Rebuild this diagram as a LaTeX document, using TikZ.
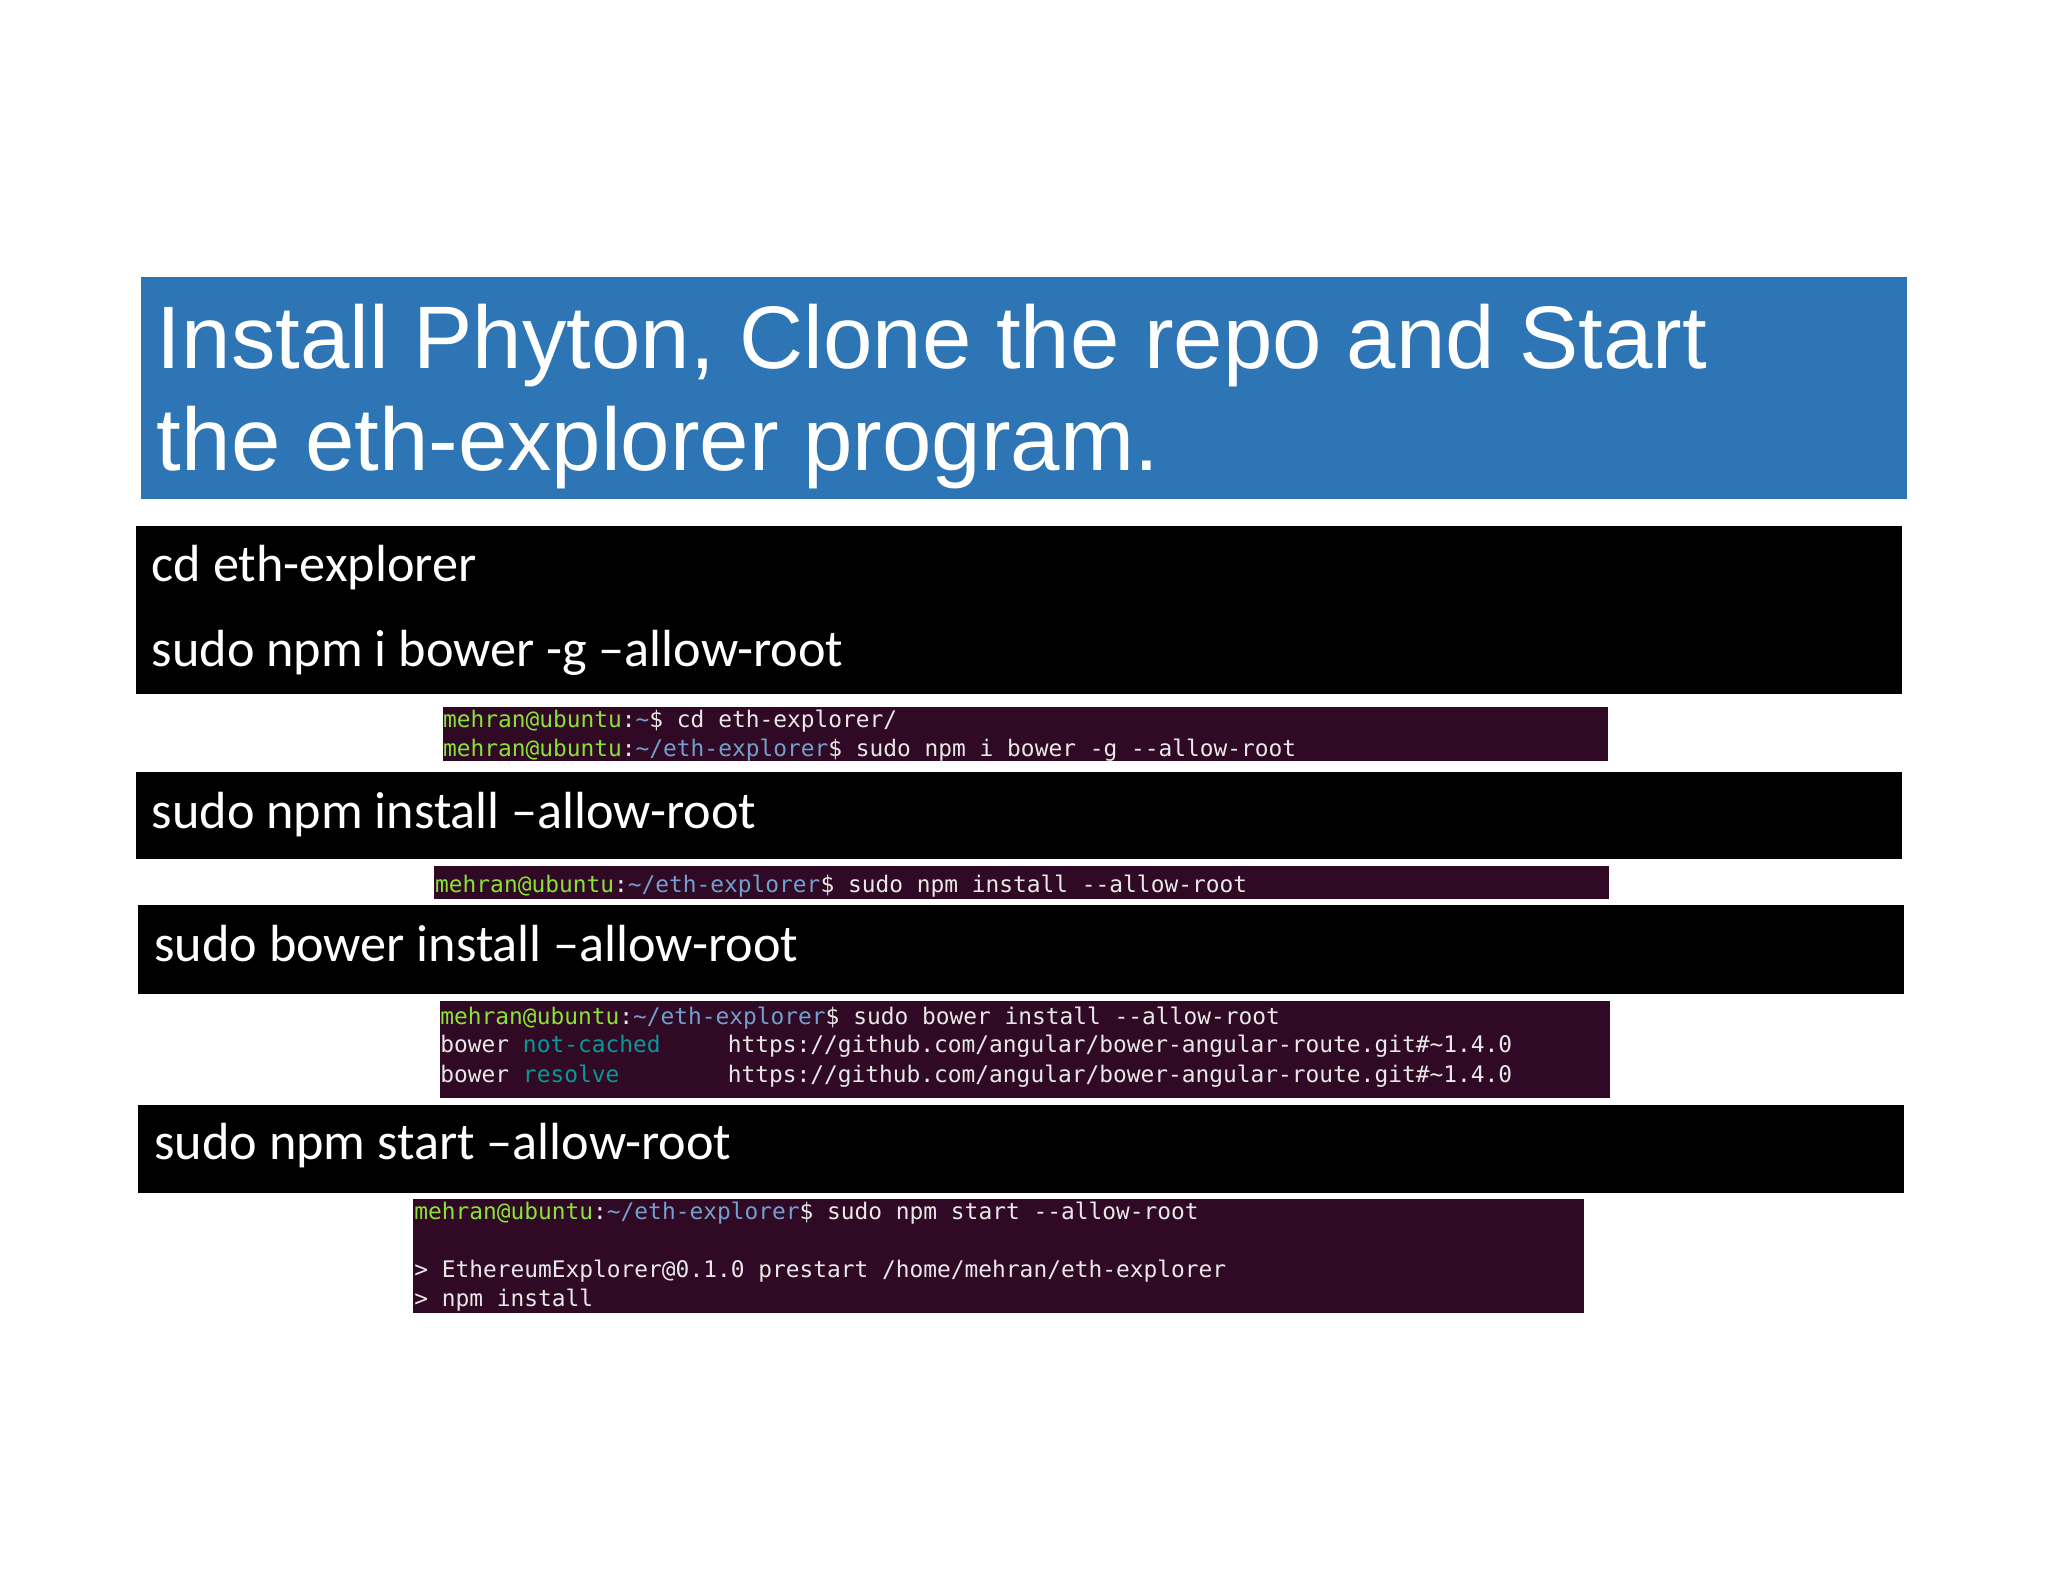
\documentclass[tikz,border=0pt]{standalone}
\usepackage{fontspec}
\setmainfont{Carlito}
\newfontfamily\titlefont{Liberation Sans}
\newfontfamily\termfont{DejaVu Sans Mono}
\usetikzlibrary{positioning}
\definecolor{titleblue}{HTML}{2E75B6}
\definecolor{termbg}{HTML}{300A24}
\definecolor{tgreen}{HTML}{8AE234}
\definecolor{tblue}{HTML}{729FCF}
\definecolor{tteal}{HTML}{06989A}
\definecolor{tgray}{HTML}{E8E8E8}
\newcommand{\usr}{\textcolor{tgreen}{mehran@ubuntu}}
\newcommand{\pth}[1]{:\textcolor{tblue}{#1}}

\tikzset{
	cmdbox/.style={fill=black, draw=none},
	termbox/.style={fill=termbg, draw=none},
	cmd/.style={anchor=base west, inner sep=0, text=white, font=\fontsize{40}{48}\selectfont},
	term/.style={anchor=base west, inner sep=0, text=tgray, font=\termfont\fontsize{17.5}{20}\selectfont}
}

\begin{document}
\begin{tikzpicture}[x=1pt, y=-1pt]
	\useasboundingbox (0,0) rectangle (1568,1211);

	% title
	\fill[titleblue] (108,212) rectangle (1460,382);
	\node[anchor=base west, inner sep=0, text=white, font=\titlefont\fontsize{68}{80}\selectfont] (title) at (120,282) {Install Phyton, Clone the repo and Start};
	\node[anchor=base west, inner sep=0, text=white, font=\titlefont\fontsize{68}{80}\selectfont] (title2) at (120,360) {the eth-explorer program.};

	% black command boxes
	\fill[cmdbox] (104,403) rectangle (1456,531);
	\node[cmd] (c1) at (116,445) {cd eth-explorer};
	\node[cmd] (c2) at (116,510) {sudo npm i bower -g --allow-root};
	\fill[cmdbox] (104,591) rectangle (1456,658);
	\node[cmd] (c3) at (116,634) {sudo npm install --allow-root};
	\fill[cmdbox] (106,693) rectangle (1458,761);
	\node[cmd] (c4) at (118,736) {sudo bower install --allow-root};
	\fill[cmdbox] (106,846) rectangle (1458,913);
	\node[cmd] (c5) at (118,888) {sudo npm start --allow-root};

	% terminal shots
	\fill[termbox] (339,541) rectangle (1231,583);
	\node[term] (t1) at (339,557) {\usr\pth{\textasciitilde}\$ cd eth-explorer/};
	\node[term] (t2) at (339,579) {\usr\pth{\textasciitilde/eth-explorer}\$ sudo npm i bower -g --allow-root};
	\fill[termbox] (332,663) rectangle (1232,688);
	\node[term] (t3) at (333,683) {\usr\pth{\textasciitilde/eth-explorer}\$ sudo npm install --allow-root};
	\fill[termbox] (337,766) rectangle (1233,841);
	\node[term] (t4) at (337,784) {\usr\pth{\textasciitilde/eth-explorer}\$ sudo bower install --allow-root};
	\node[term] (t5) at (337,806) {bower \textcolor{tteal}{not-cached}};
	\node[term] (t6) at (337,829) {bower \textcolor{tteal}{resolve}};
	\node[term] (t7) at (557,806) {https://github.com/angular/bower-angular-route.git\#\textasciitilde1.4.0};
	\node[term] (t8) at (557,829) {https://github.com/angular/bower-angular-route.git\#\textasciitilde1.4.0};
	\fill[termbox] (316,918) rectangle (1213,1005);
	\node[term] (t9) at (317,934) {\usr\pth{\textasciitilde/eth-explorer}\$ sudo npm start --allow-root};
	\node[term] (t10) at (317,978) {> EthereumExplorer@0.1.0 prestart /home/mehran/eth-explorer};
	\node[term] (t11) at (317,1000) {> npm install};
\end{tikzpicture}
\end{document}
